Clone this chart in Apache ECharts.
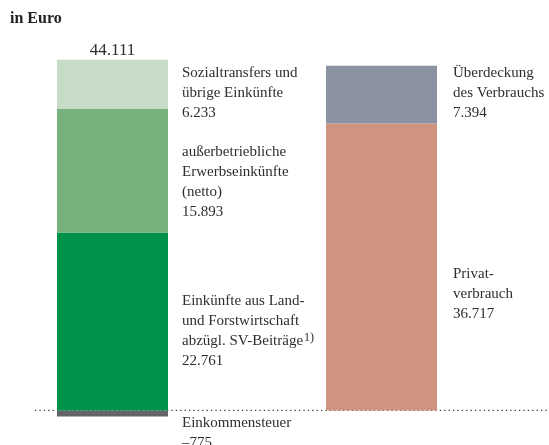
<!DOCTYPE html>
<html>
<head>
<meta charset="utf-8">
<script src="https://cdn.jsdelivr.net/npm/echarts@6/dist/echarts.min.js"></script>
<style>
  html, body { margin: 0; padding: 0; background: #ffffff; }
  #chart { width: 549px; height: 445px; }
</style>
</head>
<body>
<div id="chart"></div>
<script>
// Two columns: Einkommen and Verwendung des Einkommens
const columns = ['Einkommen', 'Verwendung'];

// Left column segments (bottom to top), Euro
const incomeNames  = ['Einkommensteuer', 'Einkünfte aus Land- und Forstwirtschaft', 'außerbetriebliche Erwerbseinkünfte', 'Sozialtransfers und übrige Einkünfte'];
const incomeValues = [-775, 22761, 15893, 6233];

// Right column segments (bottom to top), Euro
const useNames  = ['Privatverbrauch', 'Überdeckung des Verbrauchs'];
const useValues = [36717, 7394];

// Net total printed above the left column
const totalValue = 44111;

const FONT = "'Liberation Serif', 'DejaVu Serif', serif";
const TEXT = '#2e2e2e';
const BAR_W = 111;

function fmt(v) {
  const s = String(Math.abs(v)).replace(/\B(?=(\d{3})+(?!\d))/g, '.');
  return (v < 0 ? '\u2013' : '') + s;
}

// Label lines for each segment; the value is appended as the last line
const incomeLabels = [
  ['Einkommensteuer'],
  ['Einkünfte aus Land-', 'und Forstwirtschaft', 'abzügl. SV-Beiträge{sup|1)}'],
  ['außerbetriebliche', 'Erwerbseinkünfte', '(netto)'],
  ['Sozialtransfers und', 'übrige Einkünfte']
];
const useLabels = [
  ['Privat-', 'verbrauch'],
  ['Überdeckung', 'des Verbrauchs']
];

const incomeColors = ['#646567', '#00924a', '#76b17e', '#c6dcc6'];
const useColors    = ['#ce9480', '#8b93a2'];

// vertical offset of each label block from the top of its segment
const incomeLabelDy = [3, 59, 34, 3];
const useLabelDy    = [141, -3];

function segment(stack, col, name, value, color, lines, dx, dy) {
  const data = columns.map((c, i) => (i === col ? value : '-'));
  return {
    type: 'bar',
    name: name,
    stack: stack,
    barWidth: BAR_W,
    barGap: '-100%',
    clip: false,
    data: data,
    itemStyle: { color: color },
    label: {
      show: true,
      position: [dx, dy],
      align: 'left',
      verticalAlign: 'top',
      fontFamily: FONT,
      fontSize: 15,
      lineHeight: 20,
      color: TEXT,
      formatter: () => lines.concat([fmt(value)]).join('\n'),
      rich: {
        sup: { fontFamily: FONT, fontSize: 12, lineHeight: 1, verticalAlign: 'top', color: TEXT, padding: [0, 0, 0, 1] }
      }
    }
  };
}

const series = [];
incomeValues.forEach((v, i) => {
  series.push(segment('einkommen', 0, incomeNames[i], v, incomeColors[i], incomeLabels[i], BAR_W + 14, incomeLabelDy[i]));
});
useValues.forEach((v, i) => {
  series.push(segment('verwendung', 1, useNames[i], v, useColors[i], useLabels[i], BAR_W + 16, useLabelDy[i]));
});

// total above the left column, at the top of its positive stack
const leftTop = incomeValues.filter(v => v > 0).reduce((a, b) => a + b, 0);
series[3].markPoint = {
  symbol: 'circle',
  symbolSize: 1,
  silent: true,
  itemStyle: { color: 'rgba(0,0,0,0)' },
  label: {
    show: true,
    position: 'top',
    distance: 0,
    fontFamily: FONT,
    fontSize: 17,
    color: TEXT,
    formatter: fmt(totalValue)
  },
  data: [{ coord: [columns[0], leftTop] }]
};

const chart = echarts.init(document.getElementById('chart'), null, { renderer: 'canvas' });
chart.setOption({
  animation: false,
  backgroundColor: '#ffffff',
  title: {
    text: 'in Euro',
    left: 10,
    top: 11,
    padding: 0,
    textStyle: { fontFamily: FONT, fontSize: 16, fontWeight: 'bold', color: '#222' }
  },
  // column centres sit on the two category ticks at the grid edges
  grid: { left: 112.5, right: 167.5, top: 51, bottom: 19 },
  xAxis: {
    type: 'category',
    data: columns,
    boundaryGap: false,
    axisLine: { show: false },
    axisTick: { show: false },
    axisLabel: { show: false },
    splitLine: { show: false }
  },
  yAxis: {
    type: 'value',
    min: -2000,
    max: 46000,
    show: false,
    splitLine: { show: false }
  },
  series: series
});

// dotted zero line across the plot, behind the columns
const y0 = chart.convertToPixel({ gridIndex: 0 }, [columns[0], 0])[1];
chart.setOption({
  graphic: [{
    type: 'line',
    z: 0,
    silent: true,
    shape: { x1: 35, y1: y0, x2: 549, y2: y0 },
    style: { stroke: '#3a3a3a', lineWidth: 1.3, lineDash: [1.3, 3.1] }
  }]
});
</script>
</body>
</html>
